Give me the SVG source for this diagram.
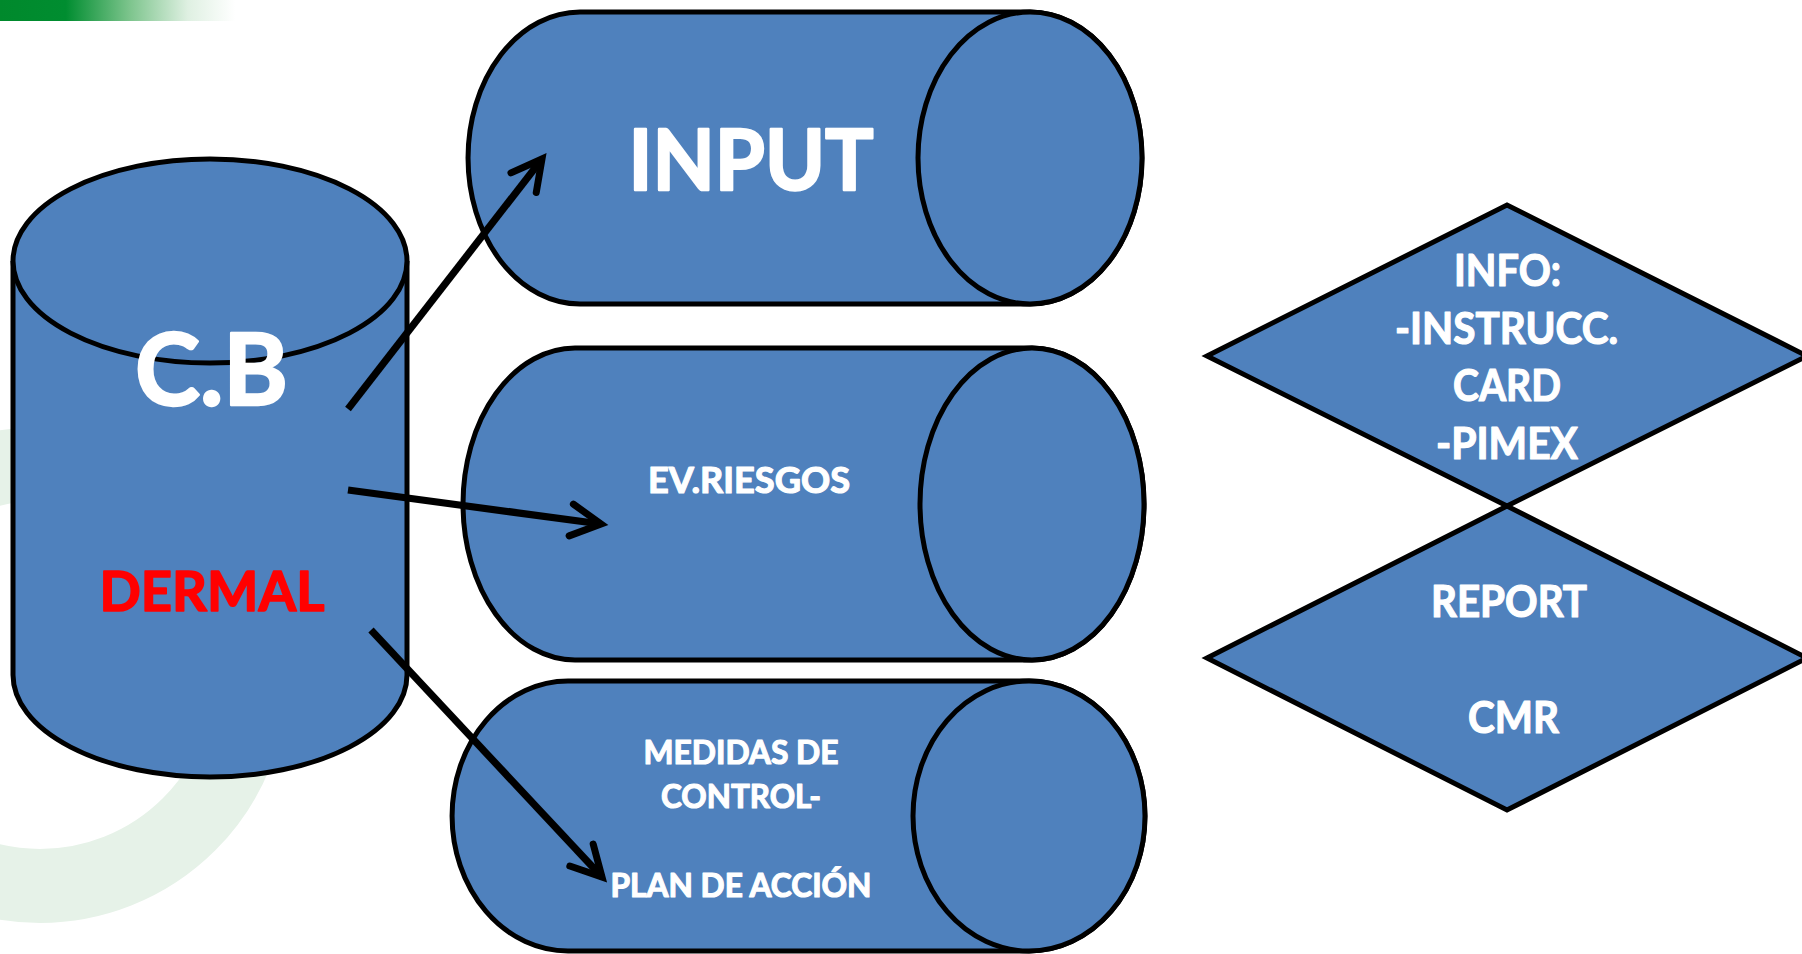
<svg xmlns="http://www.w3.org/2000/svg" width="1802" height="954" viewBox="0 0 1802 954">
<defs>
<linearGradient id="topbar" x1="0" y1="0" x2="235" y2="0" gradientUnits="userSpaceOnUse">
<stop offset="0" stop-color="#00892c"/>
<stop offset="0.28" stop-color="#008d30"/>
<stop offset="0.55" stop-color="#7cc48c"/>
<stop offset="0.8" stop-color="#dff0e2"/>
<stop offset="1" stop-color="#ffffff"/>
</linearGradient>
<marker id="arrowhead" markerUnits="userSpaceOnUse" markerWidth="60" markerHeight="60" refX="0" refY="0" orient="auto" overflow="visible">
<path d="M-30,-16 L0,0 L-30,16" fill="none" stroke="#000" stroke-width="7" stroke-linecap="round" stroke-linejoin="miter"/>
</marker>
<style>
.shape{fill:#4f81bd;stroke:#000;stroke-width:5;}
.lbl{font-family:Lato,"Open Sans","Liberation Sans",sans-serif;font-weight:bold;fill:#ffffff;stroke:#ffffff;stroke-width:1.2;stroke-linejoin:round;text-anchor:middle;}
.big{stroke-width:2.4;}
.conn{fill:none;stroke:#000;stroke-width:7.2;stroke-linecap:butt;marker-end:url(#arrowhead);}
</style>
</defs>
<rect x="0" y="0" width="1802" height="954" fill="#ffffff"/>
<g id="background">
<circle cx="40" cy="675" r="211" fill="none" stroke="#e6f2e8" stroke-width="74"/>
<rect x="0" y="0" width="235" height="21" fill="url(#topbar)"/>
</g>
<g id="node-cb">
<path class="shape" d="M13,261 L13,675 A197,102 0 0 0 407,675 L407,261"/>
<ellipse class="shape" cx="210" cy="261" rx="197" ry="102"/>
<text class="lbl big" x="211.5" y="405" font-size="99" textLength="153" lengthAdjust="spacingAndGlyphs">C.B</text>
<text class="lbl" x="212" y="611" font-size="56" textLength="225" lengthAdjust="spacingAndGlyphs" style="fill:#ff0000;stroke:#ff0000;stroke-width:1.6">DERMAL</text>
</g>
<g id="node-input">
<path class="shape" d="M580,12 L1030,12 A112,146 0 0 1 1030,304 L580,304 A112,146 0 0 1 580,12 Z"/>
<ellipse class="shape" cx="1030" cy="158" rx="112" ry="146"/>
<text class="lbl big" x="751" y="190" font-size="85" textLength="245" lengthAdjust="spacingAndGlyphs">INPUT</text>
</g>
<g id="node-evriesgos">
<path class="shape" d="M575,348 L1032,348 A112,156 0 0 1 1032,660 L575,660 A112,156 0 0 1 575,348 Z"/>
<ellipse class="shape" cx="1032" cy="504" rx="112" ry="156"/>
<text class="lbl" x="749" y="493" font-size="36" textLength="202" lengthAdjust="spacingAndGlyphs">EV.RIESGOS</text>
</g>
<g id="node-medidas">
<path class="shape" d="M568,681 L1029,681 A116,135 0 0 1 1029,951 L568,951 A116,135 0 0 1 568,681 Z"/>
<ellipse class="shape" cx="1029" cy="816" rx="116" ry="135"/>
<text class="lbl" x="741" y="764" font-size="33" textLength="195" lengthAdjust="spacingAndGlyphs">MEDIDAS DE</text>
<text class="lbl" x="741" y="808" font-size="33" textLength="160" lengthAdjust="spacingAndGlyphs">CONTROL-</text>
<text class="lbl" x="741" y="897" font-size="33" textLength="261" lengthAdjust="spacingAndGlyphs">PLAN DE ACCIÓN</text>
</g>
<g id="node-info">
<polygon class="shape" points="1207,356 1507,205 1807,356 1507,506"/>
<text class="lbl" x="1507.5" y="286" font-size="43" textLength="107" lengthAdjust="spacingAndGlyphs">INFO:</text>
<text class="lbl" x="1506.5" y="344" font-size="43" textLength="223" lengthAdjust="spacingAndGlyphs">-INSTRUCC.</text>
<text class="lbl" x="1507" y="401" font-size="43" textLength="108" lengthAdjust="spacingAndGlyphs">CARD</text>
<text class="lbl" x="1507" y="459" font-size="43" textLength="142" lengthAdjust="spacingAndGlyphs">-PIMEX</text>
</g>
<g id="node-report">
<polygon class="shape" points="1207,658 1507,506 1807,658 1507,810"/>
<text class="lbl" x="1509" y="617" font-size="43" textLength="156" lengthAdjust="spacingAndGlyphs">REPORT</text>
<text class="lbl" x="1513.5" y="733" font-size="43" textLength="91" lengthAdjust="spacingAndGlyphs">CMR</text>
</g>
<g id="connectors">
<path class="conn" d="M348,409 L542,159"/>
<path class="conn" d="M348,490 L601,524"/>
<path class="conn" d="M371,630 L602,877"/>
</g>
</svg>
